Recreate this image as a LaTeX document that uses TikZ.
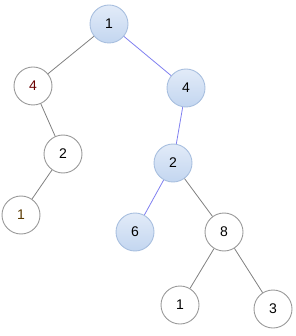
\documentclass[tikz,border=0pt]{standalone}
\usepackage{fontspec}
\setmainfont{Liberation Sans}
\definecolor{edgegray}{HTML}{808080}
\definecolor{edgeblue}{HTML}{8080F0}
\definecolor{blueborder}{HTML}{A8BFDF}
\definecolor{bluetop}{HTML}{E2EBF8}
\definecolor{bluebot}{HTML}{C3D6F0}
\definecolor{plainborder}{HTML}{9A9A9A}
\definecolor{darkred}{HTML}{6A0000}
\definecolor{brownish}{HTML}{5A3A00}
\begin{document}
\begin{tikzpicture}[x=1pt,y=-1pt,
  plain/.style={circle,draw=plainborder,fill=white,line width=0.9pt,minimum size=38pt,inner sep=0pt,font=\fontsize{14}{14}\selectfont},
  hl/.style={circle,draw=blueborder,top color=bluetop,bottom color=bluebot,line width=0.9pt,minimum size=38pt,inner sep=0pt,font=\fontsize{14}{14}\selectfont},
  ge/.style={draw=edgegray,line width=0.8pt},
  be/.style={draw=edgeblue,line width=0.8pt}]
\useasboundingbox (0,0) rectangle (296,336);
\node[hl] (r) at (109,24) {1};
\node[plain,text=darkred] (l4) at (33,86) {4};
\node[hl] (r4) at (186,88) {4};
\node[plain] (l2) at (63,154) {2};
\node[hl] (r2) at (173,163) {2};
\node[plain,text=brownish] (l1) at (21,215) {1};
\node[hl] (n6) at (135,232) {6};
\node[plain] (n8) at (224,232) {8};
\node[plain] (b1) at (180,305) {1};
\node[plain] (n3) at (273,309) {3};
\draw[ge] (r) -- (l4);
\draw[be] (r) -- (r4);
\draw[ge] (l4) -- (l2);
\draw[ge] (l2) -- (l1);
\draw[be] (r4) -- (r2);
\draw[be] (r2) -- (n6);
\draw[ge] (r2) -- (n8);
\draw[ge] (n8) -- (b1);
\draw[ge] (n8) -- (n3);
\end{tikzpicture}
\end{document}
